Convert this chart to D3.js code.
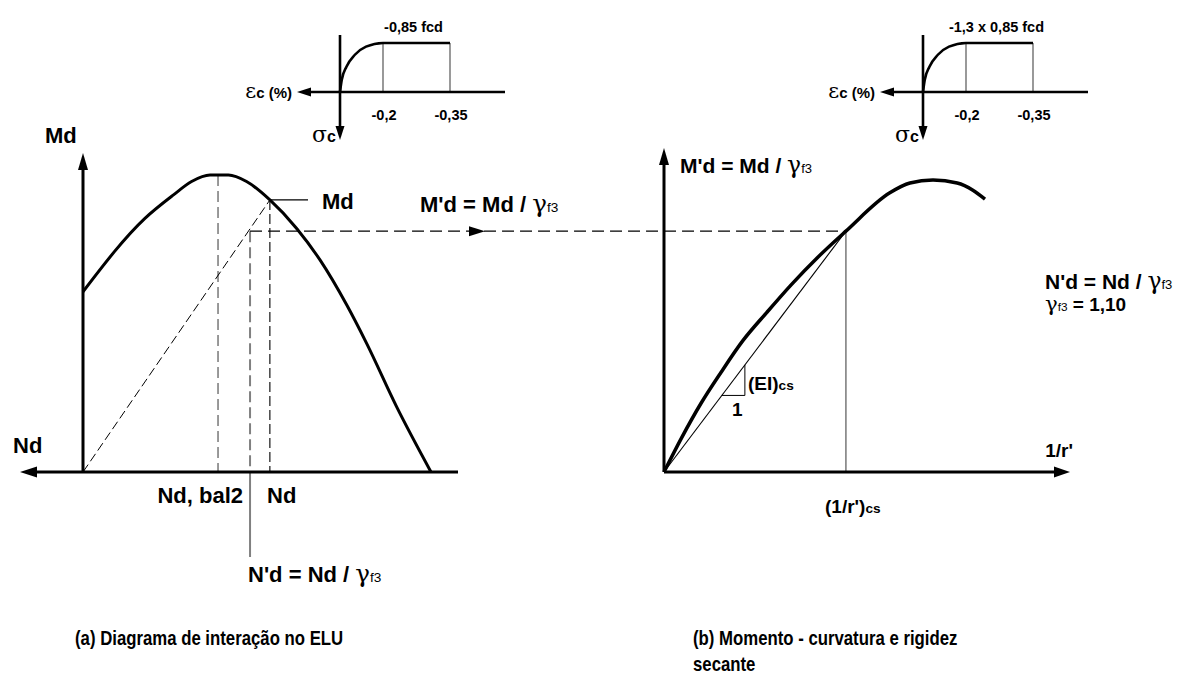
<!DOCTYPE html>
<html>
<head>
<meta charset="utf-8">
<script src="https://cdn.jsdelivr.net/npm/d3@7"></script>
<style>
  html, body { margin: 0; padding: 0; background: #fff; }
  svg { display: block; }
  text { font-family: "Liberation Sans", Arial, sans-serif; font-weight: bold; fill: #000; }
</style>
</head>
<body>
<svg id="chart" width="1187" height="675"></svg>
<script>
// ---- (a) interaction diagram at ULS: axial force Nd vs moment Md (relative units) ----
const interNd = [0, 17.8, 26.0, 31.2, 36.5, 41.8, 47.0, 53.7, 61.4, 68.1, 75.8, 81.5, 90.1, 100];
const interMd = [60.7, 85.4, 93.3, 97.8, 100, 100, 97.8, 91.6, 82.0, 71.4, 56.2, 43.3, 22.0, 0];
const ndBal2 = 38.8;             // Nd at the balance point
const designNd = 53.7, designMd = 91.6;   // (Nd, Md)
const reducedNd = 48.0, reducedMd = 81.1; // N'd = Nd/γf3, M'd = Md/γf3

// ---- (b) moment–curvature curve (relative units) ----
const curvature = [0, 4.8, 10.0, 15.6, 21.6, 28.0, 34.8, 42.1, 49.7, 61.7, 67.2, 73.5, 80.1, 84.4, 87.7];
const momentR   = [0, 11.5, 22.9, 33.6, 44.3, 53.6, 63.1, 72.4, 81.1, 94.0, 97.3, 98.3, 97.3, 94.9, 91.9];
const curvCs = 49.7;               // (1/r')cs
const slopeRun = [15.8, 22.1];     // small stiffness triangle along the secant

// ---- concrete stress–strain insets (parabola–rectangle) ----
const insetStrain = [0, 0.008, 0.030, 0.068, 0.121, 0.2, 0.35];
const insetStress = [0, 0.245, 0.517, 0.755, 0.925, 1, 1];
const insetTicks = [0.2, 0.35];
const insetTickLabels = ["-0,2", "-0,35"];
const insetTitles = ["-0,85 fcd", "-1,3 x 0,85 fcd"];

const svg = d3.select("#chart");
const GREY = "#808080";

// shared scales
const xL = d3.scaleLinear().domain([0, 100]).range([83, 431]);
const xR = d3.scaleLinear().domain([0, 100]).range([664, 1030]);
const yM = d3.scaleLinear().domain([0, 100]).range([472, 175]);

function arrow(x, y, dir, len, half) {
  let pts;
  if (dir === "left")  pts = [[x, y], [x + len, y - half], [x + len, y + half]];
  if (dir === "right") pts = [[x, y], [x - len, y - half], [x - len, y + half]];
  if (dir === "up")    pts = [[x, y], [x - half, y + len], [x + half, y + len]];
  if (dir === "down")  pts = [[x, y], [x - half, y - len], [x + half, y - len]];
  svg.append("polygon").attr("points", pts.map(p => p.join(",")).join(" ")).attr("fill", "#000");
}
function line(x1, y1, x2, y2, stroke, width, dash) {
  const l = svg.append("line").attr("x1", x1).attr("y1", y1).attr("x2", x2).attr("y2", y2)
    .attr("stroke", stroke).attr("stroke-width", width);
  if (dash) l.attr("stroke-dasharray", dash);
  return l;
}
// text made of parts: [str, kind], kind: null | "gamma" | "greek" | "sub" | "subb"
function label(x, y, parts, size, anchor, sx) {
  const t = svg.append("text").attr("font-size", size).attr("text-anchor", anchor || "start");
  if (sx) t.attr("transform", `translate(${x},${y}) scale(${sx},1)`);
  else t.attr("x", x).attr("y", y);
  parts.forEach(([s, kind, big]) => {
    const sp = t.append("tspan").text(s);
    if (kind === "gamma" || kind === "greek") {
      sp.attr("font-family", "'DejaVu Serif', 'Liberation Serif', serif").attr("font-weight", "normal")
        .attr("font-size", big || size * 1.12);
    }
    if (kind === "sub") sp.attr("font-size", size * 0.62).attr("font-weight", "normal");
    if (kind === "subb") sp.attr("font-size", size * 0.72);
  });
  return t;
}
const gammaF3 = (pre) => [[pre, null], ["γ", "gamma"], ["f3", "sub"]];

// ================= panel (a) =================
line(xL(ndBal2), yM(100), xL(ndBal2), yM(0), GREY, 1.6, "11,5");
line(xL(designNd), yM(designMd), xL(designNd), yM(0), "#000", 1.1, "10,4");
line(xL(0), yM(0), xL(designNd), yM(designMd), "#000", 1, "9,4");
line(xL(reducedNd), yM(reducedMd), xL(reducedNd), yM(0), GREY, 2, "11,5");
line(xL(reducedNd), yM(0), xL(reducedNd), 557, GREY, 2);
line(xL(designNd), yM(designMd), 308, yM(designMd), "#000", 1.2);
// M'd carried over to panel (b)
line(xL(reducedNd), yM(reducedMd), xR(curvCs), yM(reducedMd), "#000", 1.1, "12,6");
arrow(485, yM(reducedMd), "right", 16, 5);

svg.append("path")
  .datum(interNd.map((n, i) => [n, interMd[i]]))
  .attr("fill", "none").attr("stroke", "#000").attr("stroke-width", 3)
  .attr("d", d3.line().x(d => xL(d[0])).y(d => yM(d[1])).curve(d3.curveMonotoneX));

line(xL(0), yM(0), xL(0), 165, "#000", 3);
arrow(xL(0), 153, "up", 17, 5);
line(32, yM(0), 458, yM(0), "#000", 3);
arrow(20, yM(0), "left", 17, 5.5);

label(45, 143, [["Md", null]], 22);
label(13, 453, [["Nd", null]], 22);
label(322, 209, [["Md", null]], 22);
label(420, 212, gammaF3("M'd = Md / "), 22);
label(243, 503, [["Nd, bal2", null]], 22, "end");
label(267, 503, [["Nd", null]], 22);
label(248, 582, gammaF3("N'd = Nd / "), 22);

// ================= panel (b) =================
line(xR(curvCs), yM(reducedMd), xR(curvCs), yM(0), GREY, 1.6);
line(xR(0), yM(0), xR(curvCs), yM(reducedMd), "#000", 1.1);
const sec = c => reducedMd * c / curvCs;
svg.append("path")
  .attr("d", `M${xR(slopeRun[0])},${yM(sec(slopeRun[0]))} L${xR(slopeRun[1])},${yM(sec(slopeRun[0]))} L${xR(slopeRun[1])},${yM(sec(slopeRun[1]))}`)
  .attr("fill", "none").attr("stroke", "#000").attr("stroke-width", 1);

svg.append("path")
  .datum(curvature.map((c, i) => [c, momentR[i]]))
  .attr("fill", "none").attr("stroke", "#000").attr("stroke-width", 3.5)
  .attr("d", d3.line().x(d => xR(d[0])).y(d => yM(d[1])).curve(d3.curveMonotoneX));

line(xR(0), yM(0), xR(0), 160, "#000", 3);
arrow(xR(0), 148, "up", 17, 5);
line(xR(0), yM(0), 1058, yM(0), "#000", 3);
arrow(1070, yM(0), "right", 16, 5.5);

label(680, 173, gammaF3("M'd = Md / "), 21);
label(748, 390, [["(EI)", null], ["cs", "subb"]], 19);
label(732, 416, [["1", null]], 19);
label(825, 513, [["(1/r')", null], ["cs", "subb"]], 19);
label(1073, 457, [["1/r'", null]], 19, "end");
label(1045, 289, gammaF3("N'd = Nd / "), 21);
label(1045, 311, [["γ", "gamma"], ["f3", "sub"], [" = 1,10", null]], 19);

// ================= stress–strain insets =================
function inset(ox, title) {
  const xs = d3.scaleLinear().domain([0, 0.2, 0.35]).range([ox, ox + 43, ox + 110]);
  const ys = d3.scaleLinear().domain([0, 1]).range([92, 43]);
  insetTicks.forEach(t => line(xs(t), ys(1), xs(t), ys(0), GREY, 1.6));
  svg.append("path")
    .datum(insetStrain.map((e, i) => [e, insetStress[i]]))
    .attr("fill", "none").attr("stroke", "#000").attr("stroke-width", 2.6)
    .attr("d", d3.line().x(d => xs(d[0])).y(d => ys(d[1])).curve(d3.curveMonotoneX));
  line(ox - 32, ys(0), ox + 165, ys(0), "#000", 2.6);
  arrow(ox - 43, ys(0), "left", 14, 4.5);
  line(ox, 35, ox, 128, "#000", 2.6);
  arrow(ox, 140, "down", 14, 4.5);
  insetTicks.forEach((t, i) => label(xs(t) + 1, 120, [[insetTickLabels[i], null]], 14.5, "middle"));
  label((xs(0.2) + xs(0.35)) / 2 - 3, 32, [[title, null]], 14.5, "middle");
  label(ox - 48, 98, [["ε", "greek", 21], ["c (%)", null]], 15, "end");
  label(ox - 4, 142, [["σ", "greek", 22], ["c", null]], 16, "end");
}
inset(340, insetTitles[0]);
inset(923, insetTitles[1]);

// ================= captions =================
label(75, 645, [["(a) Diagrama de interação no ELU", null]], 19.5, "start", 0.86);
label(693, 645, [["(b) Momento - curvatura e rigidez", null]], 19.5, "start", 0.86);
label(693, 671, [["secante", null]], 19.5, "start", 0.86);
</script>
</body>
</html>
